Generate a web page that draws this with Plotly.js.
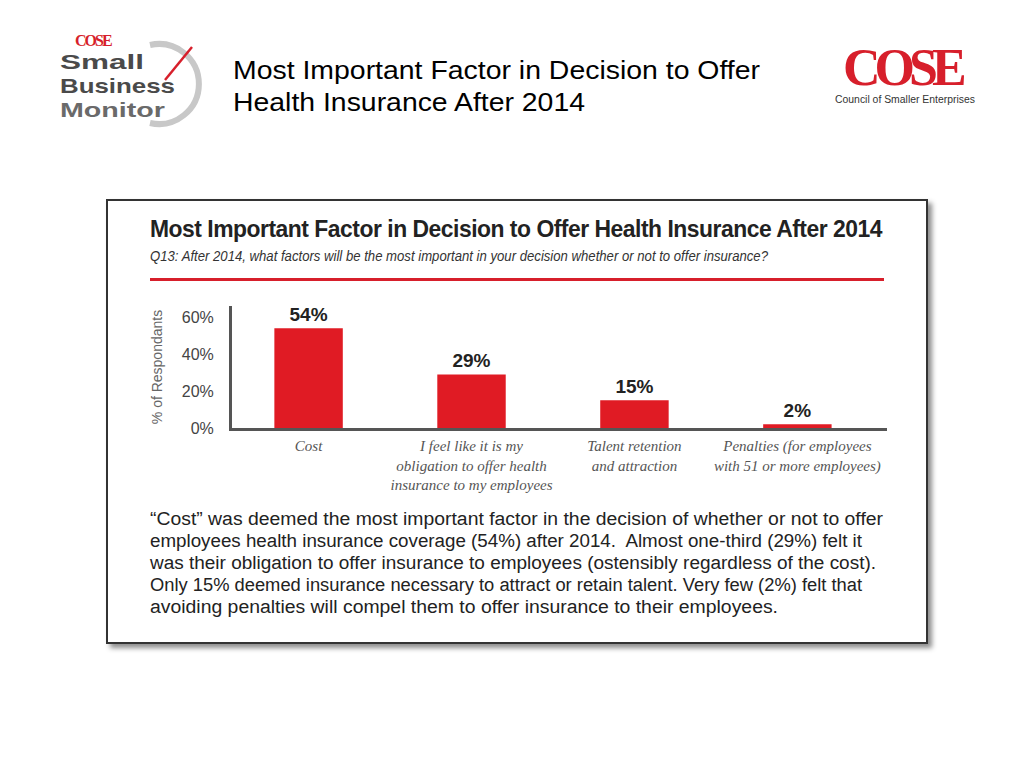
<!DOCTYPE html>
<html>
<head>
<meta charset="utf-8">
<script src="https://cdn.plot.ly/plotly-3.0.1.min.js"></script>
<style>
  html, body { margin:0; padding:0; background:#fff; width:1024px; height:768px; overflow:hidden; }
  body { position:relative; font-family:"Liberation Sans", Arial, sans-serif; }
  .abs { position:absolute; white-space:nowrap; }
  .fit { transform-origin: 0 50%; }
  #box { position:absolute; left:106px; top:199px; width:818px; height:441px; border:2px solid #333;
         box-shadow: 4px 4px 5px rgba(0,0,0,0.45); background:#fff; }
  #chart { position:absolute; left:0; top:0; width:1024px; height:768px; }
</style>
</head>
<body>
<!-- left logo -->
<svg class="abs" style="left:40px;top:30px" width="170" height="100">
  <path d="M 110 15 A 40 40 0 1 1 110 93" fill="none" stroke="#c8c8c8" stroke-width="6"/>
  <line x1="125" y1="50" x2="152" y2="17" stroke="#d71f2b" stroke-width="2.5"/>
</svg>
<div class="abs" style="left:75px;top:33px;font-family:'Liberation Serif',serif;font-weight:bold;font-size:16px;line-height:16px;color:#d71f2b;letter-spacing:-2px;">COSE</div>
<div class="abs fit" data-w="84" style="left:60px;top:50px;font-size:21px;line-height:24px;font-weight:bold;color:#4a4a4a;">Small</div>
<div class="abs fit" data-w="115" style="left:60px;top:74px;font-size:21px;line-height:24px;font-weight:bold;color:#4a4a4a;">Business</div>
<div class="abs fit" data-w="105" style="left:60px;top:98px;font-size:21px;line-height:24px;font-weight:bold;color:#6a6a6a;">Monitor</div>

<!-- header title -->
<div class="abs fit" data-w="527" style="left:233px;top:54px;font-size:26px;line-height:32px;color:#000;">Most Important Factor in Decision to Offer</div>
<div class="abs fit" data-w="352" style="left:233px;top:86px;font-size:26px;line-height:32px;color:#000;">Health Insurance After 2014</div>

<!-- right logo -->
<div class="abs" style="left:843px;top:40px;font-family:'Liberation Serif',serif;font-weight:bold;font-size:52px;color:#d71f2b;letter-spacing:-6px;line-height:56px;">COSE</div>
<div class="abs fit" data-w="140" style="left:835px;top:94px;font-size:10px;color:#333;">Council of Smaller Enterprises</div>

<!-- box -->
<div id="box"></div>
<div class="abs fit" data-w="732" style="left:150px;top:214px;font-weight:bold;font-size:24px;line-height:30px;color:#222;letter-spacing:-0.5px;">Most Important Factor in Decision to Offer Health Insurance After 2014</div>
<div class="abs fit" data-w="618" style="left:150px;top:248px;font-style:italic;font-size:14px;line-height:16px;color:#333;">Q13: After 2014, what factors will be the most important in your decision whether or not to offer insurance?</div>
<div class="abs" style="left:150px;top:278px;width:734px;height:3px;background:#d71f2b;"></div>

<div class="abs" style="left:150px;top:508px;font-size:18px;color:#222;line-height:22px;">
<div class="fit" data-w="733">“Cost” was deemed the most important factor in the decision of whether or not to offer</div>
<div class="fit" data-w="712">employees health insurance coverage (54%) after 2014.&nbsp; Almost one-third (29%) felt it</div>
<div class="fit" data-w="726">was their obligation to offer insurance to employees (ostensibly regardless of the cost).</div>
<div class="fit" data-w="712">Only 15% deemed insurance necessary to attract or retain talent. Very few (2%) felt that</div>
<div class="fit" data-w="628">avoiding penalties will compel them to offer insurance to their employees.</div>
</div>

<div id="chart"></div>
<script>
document.querySelectorAll('.fit').forEach(el => {
  const target = parseFloat(el.getAttribute('data-w'));
  el.style.display = 'inline-block';
  const w = el.getBoundingClientRect().width;
  if (w > 0) el.style.transform = 'scaleX(' + (target / w) + ')';
});
// keep paragraph lines stacked
document.querySelectorAll('.abs > .fit').forEach(el => { el.style.display = 'block'; el.style.width = 'max-content'; });

const categories = [
  "Cost",
  "I feel like it is my<br>obligation to offer health<br>insurance to my employees",
  "Talent retention<br>and attraction",
  "Penalties (for employees<br>with 51 or more employees)"
];
const values = [54, 29, 15, 2];
const valueLabels = ["54%", "29%", "15%", "2%"];
const yTickVals = [0, 20, 40, 60];
const yTickText = ["0%", "20%", "40%", "60%"];

const trace = {
  type: "bar",
  x: categories,
  y: values,
  text: valueLabels,
  textposition: "outside",
  cliponaxis: false,
  textfont: { family: "Liberation Sans, Arial, sans-serif", size: 19, color: "#222", weight: "bold" },
  marker: { color: "#e01b24" },
  width: 0.42,
  hoverinfo: "skip"
};

const layout = {
  width: 1024, height: 768,
  margin: { l: 232, r: 137, t: 306, b: 340 },
  paper_bgcolor: "rgba(0,0,0,0)",
  plot_bgcolor: "rgba(0,0,0,0)",
  showlegend: false,
  xaxis: {
    range: [-0.47, 3.55],
    showline: true, linecolor: "#555", linewidth: 3,
    ticks: "", showgrid: false, zeroline: false,
    tickfont: { family: "Liberation Serif, serif", size: 15, color: "#555", style: "italic" },
    ticklabelstandoff: 2,
    fixedrange: true
  },
  yaxis: {
    range: [0, 66],
    showline: true, linecolor: "#555", linewidth: 3,
    ticks: "", showgrid: false, zeroline: false,
    tickvals: yTickVals, ticktext: yTickText,
    tickfont: { family: "Liberation Sans, Arial, sans-serif", size: 16, color: "#444" },
    ticklabelstandoff: 12,
    title: { text: "% of Respondants", font: { family: "Liberation Sans, Arial, sans-serif", size: 14, color: "#666" }, standoff: 16 },
    fixedrange: true
  }
};

Plotly.newPlot("chart", [trace], layout, { displayModeBar: false, staticPlot: true });
</script>
</body>
</html>
